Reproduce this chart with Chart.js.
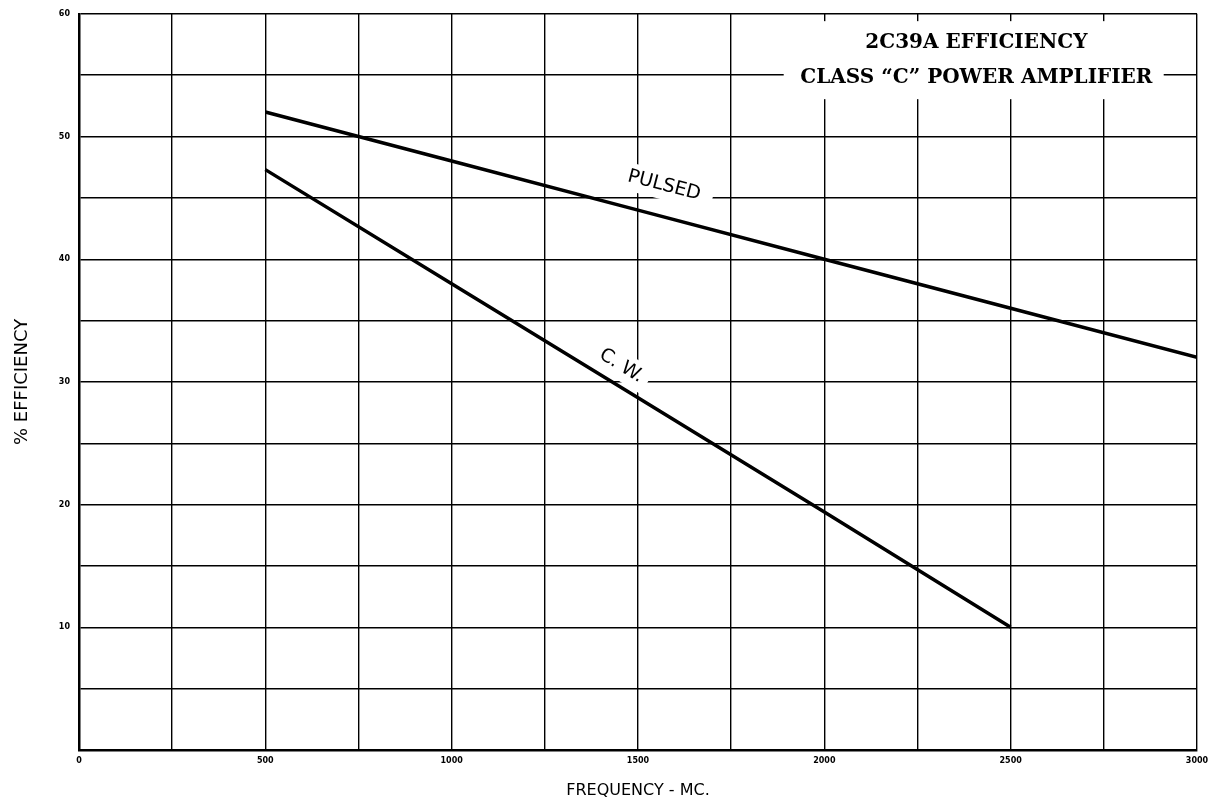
<!DOCTYPE html>
<html lang="en">
<head>
    <meta charset="UTF-8">
    <title>2C39A Efficiency</title>
    <style>
        body { margin: 0; background: #fff; }
    </style>
</head>
<script src="https://cdn.jsdelivr.net/npm/chart.js"></script>
<body>
    <canvas id="effChart" width="1219" height="808"></canvas>
</body>
<script>
    const freq = [500, 1000, 1500, 2000, 2500, 3000];
    const pulsed = [52, 48, 44, 40, 36, 32];
    const freqCw = [500, 1000, 1500, 2000, 2500];
    const cw = [47.3, 38, 28.7, 19.4, 10];

    const titleLines = ['2C39A EFFICIENCY', 'CLASS \u201CC\u201D POWER AMPLIFIER'];
    const xTitle = 'FREQUENCY - MC.';
    const yTitle = '% EFFICIENCY';

    const toPts = (xs, ys) => xs.map((x, i) => ({ x: x, y: ys[i] }));

    // white boxes behind the text, and the text itself
    const textPlugin = {
        id: 'textPlugin',
        beforeDatasetsDraw(chart) {
            const ctx = chart.ctx;
            const xs = chart.scales.x, ys = chart.scales.y;
            ctx.save();
            ctx.fillStyle = '#fff';
            // title box
            ctx.fillRect(xs.getPixelForValue(1891), ys.getPixelForValue(59.4), 380, 78);
            ctx.fillStyle = '#000';
            ctx.font = 'bold 20px "DejaVu Serif"';
            ctx.textAlign = 'center';
            ctx.textBaseline = 'middle';
            const tx = xs.getPixelForValue(2408);
            ctx.fillText(titleLines[0], tx, ys.getPixelForValue(57.6));
            ctx.fillText(titleLines[1], tx, ys.getPixelForValue(54.8));

            // curve labels
            const labels = [
                { text: 'PULSED', x: 1570, y: 46.0, ang: 14.6, w: 100, h: 28 },
                { text: 'C. W.', x: 1455, y: 31.3, ang: 31.5, w: 62, h: 28 }
            ];
            labels.forEach(l => {
                ctx.save();
                ctx.translate(xs.getPixelForValue(l.x), ys.getPixelForValue(l.y));
                ctx.rotate(l.ang * Math.PI / 180);
                ctx.fillStyle = '#fff';
                ctx.fillRect(-l.w / 2, -l.h / 2, l.w, l.h);
                ctx.fillStyle = '#000';
                ctx.font = '19px "DejaVu Sans"';
                ctx.textAlign = 'center';
                ctx.textBaseline = 'middle';
                ctx.fillText(l.text, 0, 0);
                ctx.restore();
            });
            ctx.restore();
        }
    };

    const config = {
        type: 'line',
        data: {
            datasets: [{
                label: 'PULSED',
                data: toPts(freq, pulsed),
                borderColor: '#000',
                borderWidth: 3.5,
                pointRadius: 0,
                tension: 0
            }, {
                label: 'C.W.',
                data: toPts(freqCw, cw),
                borderColor: '#000',
                borderWidth: 3.5,
                pointRadius: 0,
                tension: 0
            }]
        },
        options: {
            responsive: false,
            animation: false,
            layout: { padding: { left: 0, top: 13, right: 22, bottom: 0 } },
            plugins: {
                legend: { display: false },
                tooltip: { enabled: false }
            },
            scales: {
                x: {
                    type: 'linear',
                    min: 0,
                    max: 3000,
                    afterFit: s => { s.height = 58; },
                    ticks: {
                        stepSize: 250,
                        padding: 6,
                        maxRotation: 0,
                        autoSkip: false,
                        color: '#000',
                        font: { family: 'DejaVu Sans', size: 8, weight: 'bold' },
                        callback: v => (v % 500 === 0 ? String(v) : '')
                    },
                    grid: { color: '#000', lineWidth: 1.4, drawTicks: false },
                    border: { color: '#000', width: 2.5 },
                    title: {
                        display: true,
                        text: xTitle,
                        color: '#000',
                        font: { family: 'DejaVu Sans', size: 16 },
                        padding: { top: 0, bottom: 8 }
                    }
                },
                y: {
                    min: 0,
                    max: 60,
                    afterFit: s => { s.width = 79; },
                    ticks: {
                        stepSize: 5,
                        padding: 9,
                        autoSkip: false,
                        color: '#000',
                        font: { family: 'DejaVu Sans', size: 8, weight: 'bold' },
                        callback: v => (v % 10 === 0 && v !== 0 ? String(v) : '')
                    },
                    grid: { color: '#000', lineWidth: 1.4, drawTicks: false },
                    border: { color: '#000', width: 2.5 },
                    title: {
                        display: true,
                        text: yTitle,
                        color: '#000',
                        font: { family: 'DejaVu Sans', size: 18 },
                        padding: { top: 12, bottom: 0 }
                    }
                }
            }
        },
        plugins: [textPlugin]
    };

    const chart1 = new Chart(document.getElementById('effChart'), config);
</script>
</html>
